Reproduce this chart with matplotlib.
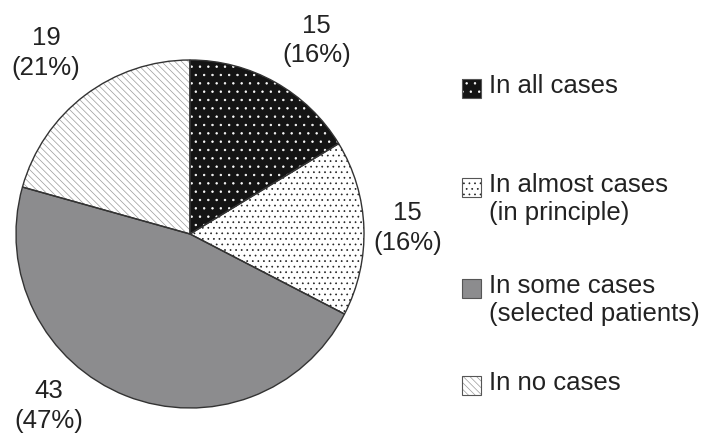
# Pie chart of how often the practice is applied, with hatched wedges

import numpy as np
import matplotlib.pyplot as plt
from matplotlib.patches import Rectangle

plt.rcParams['font.family'] = ['Liberation Sans', 'DejaVu Sans']
plt.rcParams['hatch.linewidth'] = 0.5

# Data
categories = ['In all cases', 'In almost cases\n(in principle)',
              'In some cases\n(selected patients)', 'In no cases']
counts = [15, 15, 43, 19]

# Wedge styles: face colour, hatch, hatch colour
faces = ['#141414', 'white', '#8c8c8e', 'white']
hatches = ['..', '...', None, '\\\\\\\\\\']
hatch_cols = ['white', '#222222', '#8c8c8e', '#9a9a9a']

# label placement around the pie (angle in degrees, distance in radii)
label_pos = [(56.8, 1.33), (1.6, 1.25), (-129.3, 1.28), (128.5, 1.33)]

W, H = 710, 437
fs = 18.5
fig = plt.figure(figsize=(W / 100, H / 100), dpi=100)

cx, cy, r = 190, 234, 174
ax = fig.add_axes([(cx - r) / W, (H - cy - r) / H, 2 * r / W, 2 * r / H])

# hatched fill layer
wedges, _ = ax.pie(counts, startangle=90, counterclock=False, radius=1,
                   wedgeprops=dict(linewidth=0))
for w, fc, h, hc in zip(wedges, faces, hatches, hatch_cols):
    w.set_facecolor(fc)
    w.set_edgecolor(hc)
    w.set_hatch(h)

# outline layer
ax.pie(counts, startangle=90, counterclock=False, radius=1,
       wedgeprops=dict(fill=False, edgecolor='#333333', linewidth=1.0))
ax.set_xlim(-1, 1)
ax.set_ylim(-1, 1)

total = sum(counts)
for n, (ang, d) in zip(counts, label_pos):
    a = np.deg2rad(ang)
    ax.text(d * np.cos(a), d * np.sin(a), f'{n}\n({n / total * 100:.0f}%)',
            ha='center', va='center', fontsize=fs, color='#222222',
            linespacing=1.3)

# legend drawn by hand
leg_x, box = 462, 19
row_tops = [79, 178, 279, 376]
for lab, fc, h, hc, top in zip(categories, faces, hatches, hatch_cols, row_tops):
    y0 = (H - top - box) / H
    fig.patches.append(Rectangle((leg_x / W, y0), box / W, box / H,
                                 transform=fig.transFigure, facecolor=fc,
                                 edgecolor=hc, hatch=h, linewidth=0))
    fig.patches.append(Rectangle((leg_x / W, y0), box / W, box / H,
                                 transform=fig.transFigure, fill=False,
                                 edgecolor='#555555', linewidth=0.8))
    fig.text((leg_x + box + 8) / W, (H - top + 5) / H, lab, ha='left', va='top',
             fontsize=fs, color='#222222', linespacing=1.2)

fig.savefig('out.png', dpi=100)
